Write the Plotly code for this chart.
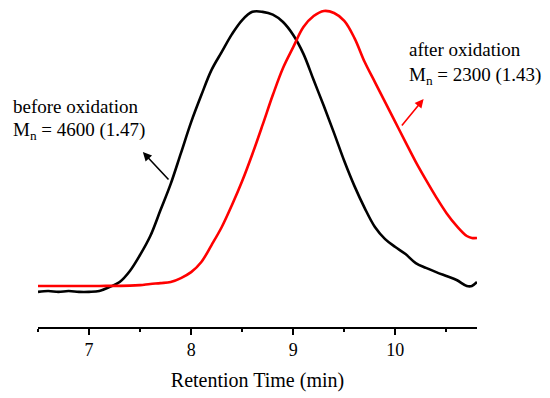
import plotly.graph_objects as go

# Retention time (min) and normalized detector response
t_before = [6.5, 6.6, 6.7, 6.8, 6.9, 7.0, 7.1, 7.2, 7.3, 7.4, 7.5, 7.6, 7.7, 7.8, 7.9, 8.0, 8.1,
            8.2, 8.3, 8.4, 8.5, 8.6, 8.7, 8.8, 8.9, 9.0, 9.1, 9.2, 9.3, 9.4, 9.5, 9.6, 9.7, 9.8,
            9.9, 10.0, 10.1, 10.2, 10.3, 10.4, 10.5, 10.6, 10.7, 10.75, 10.8]
v_before = [0.004, 0.007, 0.004, 0.007, 0.004, 0.004, 0.007, 0.021, 0.039, 0.078, 0.135, 0.202,
            0.294, 0.387, 0.496, 0.606, 0.702, 0.791, 0.855, 0.918, 0.968, 0.997, 0.997, 0.987,
            0.961, 0.915, 0.848, 0.755, 0.663, 0.567, 0.468, 0.379, 0.301, 0.234, 0.191, 0.163,
            0.138, 0.106, 0.089, 0.074, 0.060, 0.046, 0.025, 0.025, 0.039]

t_after = [6.5, 6.8, 7.1, 7.4, 7.5, 7.6, 7.7, 7.8, 7.9, 8.0, 8.1, 8.2, 8.3, 8.4, 8.5, 8.6, 8.7,
           8.8, 8.9, 9.0, 9.1, 9.2, 9.3, 9.4, 9.5, 9.6, 9.7, 9.8, 9.9, 10.0, 10.1, 10.2, 10.3,
           10.4, 10.5, 10.6, 10.7, 10.75, 10.8]
v_after = [0.025, 0.025, 0.025, 0.026, 0.028, 0.032, 0.035, 0.039, 0.053, 0.074, 0.110, 0.170,
           0.234, 0.312, 0.397, 0.493, 0.596, 0.702, 0.798, 0.872, 0.943, 0.982, 1.000, 0.993,
           0.965, 0.904, 0.819, 0.748, 0.677, 0.606, 0.535, 0.465, 0.401, 0.340, 0.284, 0.238,
           0.202, 0.195, 0.195]

x_ticks = [7, 8, 9, 10]
x_title = "Retention Time (min)"
label_before = ["before oxidation", "M<sub>n</sub> = 4600 (1.47)"]
label_after = ["after oxidation", "M<sub>n</sub> = 2300 (1.43)"]

FONT = "Liberation Serif, Times New Roman, serif"

fig = go.Figure()
fig.add_trace(go.Scatter(x=t_before, y=v_before, mode="lines",
                         line=dict(color="#000000", width=2.6, shape="spline", smoothing=1.0),
                         showlegend=False, hoverinfo="skip"))
fig.add_trace(go.Scatter(x=t_after, y=v_after, mode="lines",
                         line=dict(color="#ff0000", width=2.6, shape="spline", smoothing=1.0),
                         showlegend=False, hoverinfo="skip"))

# arrows (head, tail) in data units
fig.add_annotation(x=7.527, y=0.500, ax=7.792, ay=0.397, xref="x", yref="y", axref="x", ayref="y",
                   text="", showarrow=True, arrowhead=2, arrowsize=1.1, arrowwidth=1.6,
                   arrowcolor="#000000")
fig.add_annotation(x=10.277, y=0.688, ax=10.052, ay=0.589, xref="x", yref="y", axref="x", ayref="y",
                   text="", showarrow=True, arrowhead=2, arrowsize=1.1, arrowwidth=1.6,
                   arrowcolor="#ff0000")

def text_ann(x, y, s):
    fig.add_annotation(x=x, y=y, xref="paper", yref="paper", text=s, showarrow=False,
                       xanchor="left", yanchor="middle", align="left",
                       font=dict(family=FONT, size=19, color="#000000"))

text_ann(-0.062, 0.684, label_before[0])
text_ann(-0.062, 0.609, label_before[1])
text_ann(0.840, 0.862, label_after[0])
text_ann(0.840, 0.780, label_after[1])

fig.update_layout(
    width=550, height=398,
    margin=dict(l=38, r=73, t=5, b=71),
    paper_bgcolor="white", plot_bgcolor="white",
    font=dict(family=FONT, color="#000000"),
    hovermode=False,
    xaxis=dict(range=[6.5, 10.8], tickvals=x_ticks, ticks="outside", ticklen=6, tickwidth=1.5,
               tickcolor="#000000", showline=True, linecolor="#000000", linewidth=1.6,
               showgrid=False, zeroline=False,
               tickfont=dict(family=FONT, size=18, color="#000000"),
               minor=dict(dtick=0.5, tick0=6.5, ticks="outside", ticklen=3, tickwidth=1.5,
                          tickcolor="#000000", showgrid=False),
               title=dict(text=x_title, font=dict(family=FONT, size=20, color="#000000"),
                          standoff=14)),
    yaxis=dict(range=[-0.1206, 1.0213], visible=False, showgrid=False, zeroline=False),
)

fig.write_html("out.html", config={"displayModeBar": False},
               post_script="document.body.style.margin='0';")
